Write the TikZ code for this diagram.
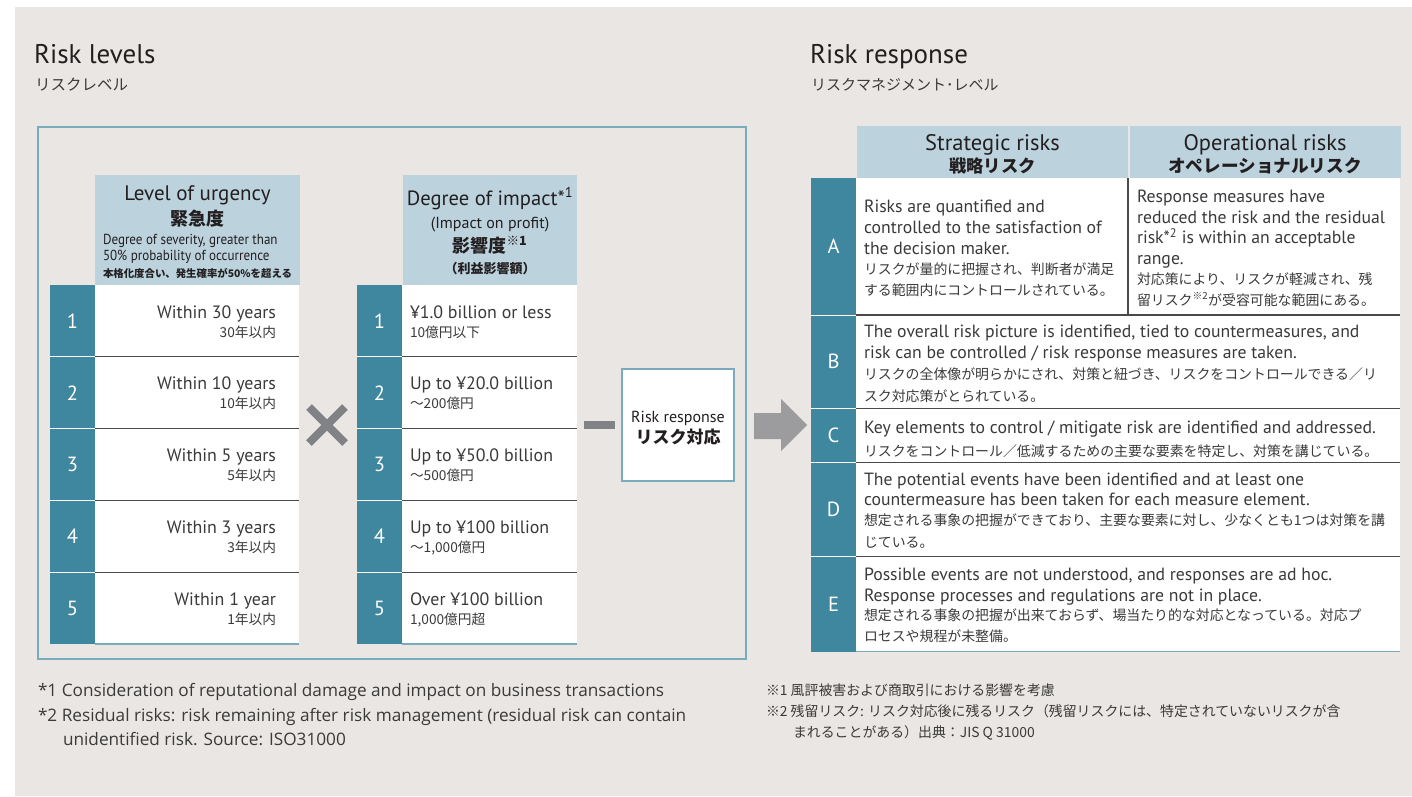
\documentclass[tikz,border=0pt]{standalone}
\usepackage{fontspec}
\setmainfont{PT Sans}
\newfontfamily\jp{Noto Sans CJK JP}
\newfontfamily\fnf{Open Sans}
\newfontfamily\cond[FakeStretch=0.9]{PT Sans}
\newcommand\fsz[1]{\fontsize{#1}{#1}\selectfont}
\definecolor{bgc}{HTML}{EAE6E3}
\definecolor{tealc}{HTML}{3F879E}
\definecolor{hdrc}{HTML}{BCD3DE}
\definecolor{frc}{HTML}{7AABBC}
\definecolor{txc}{HTML}{3A3A3A}
\definecolor{ttc}{HTML}{231F20}
\definecolor{sepc}{HTML}{4A4A4A}
\definecolor{symc}{HTML}{808285}
\definecolor{arrc}{HTML}{9C9C9E}
\tikzset{
  tl/.style={inner sep=0pt, outer sep=0pt, anchor=base west, text=txc},
  en/.style={font=\fsz{17.7}},
  jpt/.style={font=\jp\fsz{13.9}},
  cell/.style={inner sep=0pt, outer sep=0pt, anchor=north west},
  numcell/.style={cell, fill=tealc, text=white, font=\fsz{20.5}, minimum width=45, minimum height=71.8},
  wcell/.style={cell, fill=white, minimum height=71.8},
  hdr/.style={cell, fill=hdrc},
  sepl/.style={sepc, line width=1.1},
  wsep/.style={white, line width=1},
  botl/.style={frc, line width=1.2},
}
\begin{document}
\begin{tikzpicture}[x=1pt,y=-1pt]
\fill[white] (0,0) rectangle (1412,796);
\fill[bgc] (15,7) rectangle (1412,796);
\useasboundingbox (0,0) rectangle (1412,796);

% titles
\node[tl, text=ttc, font=\fsz{27}] (tl1) at (34,63) {Risk levels};
\node[tl, font=\jp\fsz{15.5}] (tl1j) at (35,90) {リスクレベル};
\node[tl, text=ttc, font=\fsz{27}] (tr1) at (810,63) {Risk response};
\node[tl, font=\jp\fsz{15}] (tr1j) at (811,90) {リスクマネジメント･レベル};

% left frame
\node[cell, draw=frc, line width=1.2, minimum width=708, minimum height=532] (frame) at (38,127) {};

% urgency header
\node[hdr, minimum width=205, minimum height=110] (uh) at (95,175) {};
\node[tl, anchor=base, text=ttc, font=\fsz{21}] (uh1) at (197.5,200) {Level of urgency};
\node[tl, anchor=base, text=ttc, font=\jp\bfseries\fsz{18}] (uh2) at (197.5,225) {緊急度};
\node[tl, text=ttc, font=\cond\fsz{14.5}] (uh3) at (103,244) {Degree of severity, greater than};
\node[tl, text=ttc, font=\cond\fsz{14.5}] (uh4) at (103,260) {50\% probability of occurrence};
\node[tl, text=ttc, font=\jp\bfseries\fsz{10.4}] (uh5) at (103,277) {本格化度合い、発生確率が50\%を超える};

% impact header
\node[hdr, minimum width=174, minimum height=110] (ih) at (403,175) {};
\node[tl, anchor=base, text=ttc, font=\fsz{20.6}] (ih1) at (490,205) {Degree of impact*\textsuperscript{1}};
\node[tl, anchor=base, text=ttc, font=\fsz{16}] (ih2) at (490,228) {(Impact on profit)};
\node[tl, anchor=base, text=ttc, font=\jp\bfseries\fsz{18}] (ih3) at (490,252) {影響度\textsuperscript{※1}};
\node[tl, anchor=base, text=ttc, font=\jp\bfseries\fsz{13}] (ih4) at (490,273) {（利益影響額）};

% rows of both tables
\foreach \i/\ue/\uj/\ie/\ij in {
  1/Within 30 years/30年以内/¥1.0 billion or less/10億円以下,
  2/Within 10 years/10年以内/Up to ¥20.0 billion/～200億円,
  3/Within 5 years/5年以内/Up to ¥50.0 billion/～500億円,
  4/Within 3 years/3年以内/Up to ¥100 billion/{～1,000億円},
  5/Within 1 year/1年以内/Over ¥100 billion/{1,000億円超}}{
  \pgfmathsetmacro\rt{285+(\i-1)*71.8}
  \node[numcell] (un\i) at (50,\rt) {\i};
  \node[wcell, minimum width=204] (uc\i) at (95,\rt) {};
  \node[tl, anchor=base east, font=\fsz{17.9}] (ue\i) at (276,\rt+33) {\ue};
  \node[tl, anchor=base east, font=\jp\fsz{13.7}] (uj\i) at (276,\rt+52) {\uj};
  \node[numcell] (in\i) at (357,\rt) {\i};
  \node[wcell, minimum width=175] (ic\i) at (402,\rt) {};
  \node[tl, font=\fsz{17.9}] (ie\i) at (410,\rt+33) {\ie};
  \node[tl, font=\jp\fsz{13.7}] (ij\i) at (410,\rt+52) {\ij};
}
\foreach \i in {2,...,5}{
  \draw[sepl] (uc\i.north west) -- (uc\i.north east);
  \draw[wsep] (un\i.north west) -- (un\i.north east);
  \draw[sepl] (ic\i.north west) -- (ic\i.north east);
  \draw[wsep] (in\i.north west) -- (in\i.north east);
}
\draw[botl] (uc5.south west) -- (uc5.south east);
\draw[botl] (ic5.south west) -- (ic5.south east);

% times, minus
\draw[symc, line width=8] (309,407) -- (345,443) (309,443) -- (345,407);
\fill[symc] (584,421) rectangle (615,429);

% risk response box
\node[cell, draw=frc, line width=1.6, fill=white, minimum width=112, minimum height=112] (rr) at (622,369) {};
\node[tl, anchor=base, text=ttc, font=\fsz{16}] (rre) at (678,422) {Risk response};
\node[tl, anchor=base, text=ttc, font=\jp\bfseries\fsz{17}] (rrj) at (678,443) {リスク対応};

% arrow
\fill[arrc] (754,413) -- (781,413) -- (781,399) -- (807,425) -- (781,451) -- (781,439) -- (754,439) -- cycle;

% right table header
\node[hdr, minimum width=271, minimum height=52] (hS) at (857,126) {};
\node[hdr, minimum width=271, minimum height=52] (hO) at (1129.5,126) {};
\node[tl, anchor=base, text=ttc, font=\fsz{22.5}] (hS1) at (992.5,150) {Strategic risks};
\node[tl, anchor=base, text=ttc, font=\jp\bfseries\fsz{17.3}] (hS2) at (992.5,172) {戦略リスク};
\node[tl, anchor=base, text=ttc, font=\fsz{22.5}] (hO1) at (1265,150) {Operational risks};
\node[tl, anchor=base, text=ttc, font=\jp\bfseries\fsz{17.6}] (hO2) at (1265,172) {オペレーショナルリスク};

% right table rows
\node[cell, fill=tealc, text=white, font=\fsz{20.5}, minimum width=45, minimum height=137] (rA) at (811,178) {A};
\node[cell, fill=white, minimum width=272, minimum height=137] (cA1) at (856,178) {};
\node[cell, fill=white, minimum width=272, minimum height=137] (cA2) at (1128,178) {};
\node[cell, fill=tealc, text=white, font=\fsz{20.5}, minimum width=45, minimum height=93.5] (rB) at (811,315) {B};
\node[cell, fill=white, minimum width=544, minimum height=93.5] (cB) at (856,315) {};
\node[cell, fill=tealc, text=white, font=\fsz{20.5}, minimum width=45, minimum height=54] (rC) at (811,408.5) {C};
\node[cell, fill=white, minimum width=544, minimum height=54] (cC) at (856,408.5) {};
\node[cell, fill=tealc, text=white, font=\fsz{20.5}, minimum width=45, minimum height=94] (rD) at (811,462.5) {D};
\node[cell, fill=white, minimum width=544, minimum height=94] (cD) at (856,462.5) {};
\node[cell, fill=tealc, text=white, font=\fsz{20.5}, minimum width=45, minimum height=95] (rE) at (811,556.5) {E};
\node[cell, fill=white, minimum width=544, minimum height=95] (cE) at (856,556.5) {};
\draw[sepl] (cA1.north east) -- (cA1.south east);
\foreach \r in {B,C,D,E}{
  \draw[sepl] (c\r.north west) -- (c\r.north east);
  \draw[wsep] (r\r.north west) -- (r\r.north east);
}
\draw[botl] (cE.south west) -- (cE.south east);

% row texts
\node[tl, en] (a1) at (864,212) {Risks are quantified and};
\node[tl, en] (a2) at (864,233) {controlled to the satisfaction of};
\node[tl, en] (a3) at (864,254) {the decision maker.};
\node[tl, jpt] (a4) at (864,274) {リスクが量的に把握され、判断者が満足};
\node[tl, jpt] (a5) at (864,295) {する範囲内にコントロールされている。};
\node[tl, en] (o1) at (1137,202) {Response measures have};
\node[tl, en] (o2) at (1137,223) {reduced the risk and the residual};
\node[tl, en] (o3) at (1137,243.5) {risk*\textsuperscript{2} is within an acceptable};
\node[tl, en] (o4) at (1137,264) {range.};
\node[tl, jpt] (o5) at (1137,284) {対応策により、リスクが軽減され、残};
\node[tl, jpt] (o6) at (1137,305) {留リスク\textsuperscript{※2}が受容可能な範囲にある。};
\node[tl, en] (b1) at (864,337) {The overall risk picture is identified, tied to countermeasures, and};
\node[tl, en] (b2) at (864,358.5) {risk can be controlled / risk response measures are taken.};
\node[tl, jpt] (b3) at (864,379) {リスクの全体像が明らかにされ、対策と紐づき、リスクをコントロールできる／リ};
\node[tl, jpt] (b4) at (864,401) {スク対応策がとられている。};
\node[tl, en] (c1) at (864,433) {Key elements to control / mitigate risk are identified and addressed.};
\node[tl, jpt] (c2) at (864,456.5) {リスクをコントロール／低減するための主要な要素を特定し、対策を講じている。};
\node[tl, en] (d1) at (864,485.5) {The potential events have been identified and at least one};
\node[tl, en] (d2) at (864,505.5) {countermeasure has been taken for each measure element.};
\node[tl, jpt] (d3) at (864,525) {想定される事象の把握ができており、主要な要素に対し、少なくとも1つは対策を講};
\node[tl, jpt] (d4) at (864,547) {じている。};
\node[tl, en] (e1) at (864,580) {Possible events are not understood, and responses are ad hoc.};
\node[tl, en] (e2) at (864,601) {Response processes and regulations are not in place.};
\node[tl, jpt] (e3) at (864,620.5) {想定される事象の把握が出来ておらず、場当たり的な対応となっている。対応プ};
\node[tl, jpt] (e4) at (864,641) {ロセスや規程が未整備。};

% footnotes
\node[tl, font=\fnf\fsz{17.2}] (f1) at (38,696) {*1 Consideration of reputational damage and impact on business transactions};
\node[tl, font=\fnf\fsz{17.2}] (f2) at (38,721) {*2 Residual risks: risk remaining after risk management (residual risk can contain};
\node[tl, font=\fnf\fsz{17.2}] (f3) at (63,745) {unidentified risk. Source: ISO31000};
\node[tl, font=\jp\fsz{13.9}] (g1) at (766,695.5) {※1 風評被害および商取引における影響を考慮};
\node[tl, font=\jp\fsz{13.9}] (g2) at (766,716) {※2 残留リスク: リスク対応後に残るリスク（残留リスクには、特定されていないリスクが含};
\node[tl, font=\jp\fsz{13.9}] (g3) at (793,737) {まれることがある）出典：JIS Q 31000};
\end{tikzpicture}
\end{document}
